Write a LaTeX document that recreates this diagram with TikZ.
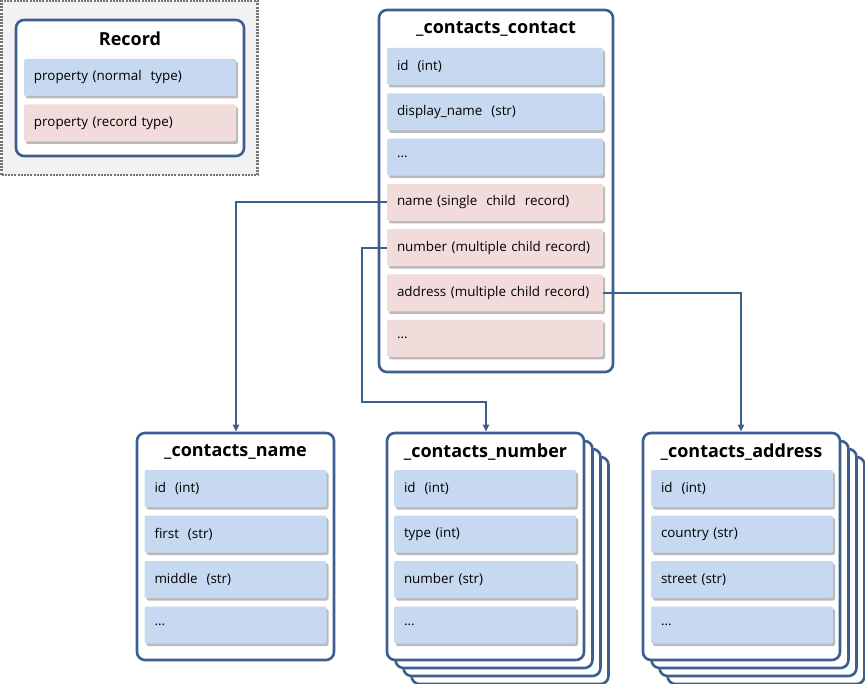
\documentclass[tikz,border=0pt]{standalone}
\usepackage{fontspec}
\setmainfont{Open Sans}
\usetikzlibrary{arrows.meta,shadows,positioning}
\definecolor{bordc}{HTML}{3D5F8E}
\definecolor{rowblue}{HTML}{C6D9F0}
\definecolor{rowpink}{HTML}{F2DCDB}
\definecolor{legbg}{HTML}{F2F2F2}
\tikzset{
  recbox/.style={draw=bordc, line width=2.6pt, rounded corners=8pt, fill=white, inner sep=0pt},
  rowbase/.style={rounded corners=2pt, inner xsep=10pt, inner ysep=0pt, minimum height=37pt,
    align=left, font=\fontsize{13.4}{15}\selectfont,
    drop shadow={shadow xshift=2pt, shadow yshift=-2.5pt, opacity=0.45, fill=black!60}},
  rowb/.style={rowbase, fill=rowblue, text width=#1-20pt},
  rowp/.style={rowbase, fill=rowpink, text width=#1-20pt},
  rtitle/.style={font=\fontsize{18}{20}\selectfont\bfseries, inner sep=0pt},
  conn/.style={draw=bordc, line width=1.8pt},
  arr/.style={conn, -{Triangle[length=7pt,width=6pt]}}
}
\begin{document}
\begin{tikzpicture}[x=1pt,y=-1pt]
\useasboundingbox (0,0) rectangle (865,684);
% legend
\node[draw=black!55, fill=legbg, line width=2.6pt, dash pattern=on 2pt off 1.2pt, minimum width=256pt, minimum height=174pt, inner sep=0pt] (legend) at (129.5,88) {};
\node[recbox, minimum width=228pt, minimum height=136pt] (recbox) at (130,88) {};
\node[rtitle] (rectitle) at (130,38.5) {Record};
\node[rowb=212pt] (lnorm) at (130,77.5) {property (normal\ \ type)};
\node[rowb=212pt, fill=rowpink] (lrec) at (130,123) {property (record type)};

% contacts_contact
\node[recbox, minimum width=234pt, minimum height=362pt] (contact) at (496,191) {};
\node[rtitle] (ctitle) at (496,28.5) {\_contacts\_contact};
\node[rowb=216pt] (cid) at (495,66.5) {id\ \ (int)};
\node[rowb=216pt] (cdisp) at (495,111.8) {display\_name\ \ (str)};
\node[rowb=216pt] (cdots1) at (495,157.1) {...};
\node[rowp=216pt] (cname) at (495,202.4) {name (single\ \ child\ \ record)};
\node[rowp=216pt] (cnum) at (495,247.7) {number (multiple child record)};
\node[rowp=216pt] (caddr) at (495,293.0) {address (multiple child record)};
\node[rowp=216pt] (cdots2) at (495,338.3) {...};

% contacts_name
\node[recbox, minimum width=197pt, minimum height=227pt] (nbox) at (235.5,546.5) {};
\node[rtitle] (ntitle) at (235.5,452) {\_contacts\_name};
\node[rowb=182pt] (nid) at (235.5,488.5) {id\ \ (int)};
\node[rowb=182pt] (nfirst) at (235.5,534) {first\ \ (str)};
\node[rowb=182pt] (nmid) at (235.5,579.5) {middle\ \ (str)};
\node[rowb=182pt] (ndots) at (235.5,625) {...};

% contacts_number (stack)
\node[recbox, minimum width=197pt, minimum height=227pt] (numb3) at (510,570.5) {};
\node[recbox, minimum width=197pt, minimum height=227pt] (numb2) at (502,562.5) {};
\node[recbox, minimum width=197pt, minimum height=227pt] (numb1) at (494,554.5) {};
\node[recbox, minimum width=197pt, minimum height=227pt] (numbox) at (485.5,546.5) {};
\node[rtitle] (numtitle) at (485.5,452) {\_contacts\_number};
\node[rowb=182pt] (numid) at (485,488.5) {id\ \ (int)};
\node[rowb=182pt] (numtype) at (485,534) {type (int)};
\node[rowb=182pt] (numnum) at (485,579.5) {number (str)};
\node[rowb=182pt] (numdots) at (485,625) {...};

% contacts_address (stack)
\node[recbox, minimum width=197pt, minimum height=227pt] (addb3) at (766,570.5) {};
\node[recbox, minimum width=197pt, minimum height=227pt] (addb2) at (758,562.5) {};
\node[recbox, minimum width=197pt, minimum height=227pt] (addb1) at (750,554.5) {};
\node[recbox, minimum width=197pt, minimum height=227pt] (addbox) at (741.5,546.5) {};
\node[rtitle] (addtitle) at (741.5,452) {\_contacts\_address};
\node[rowb=182pt] (addid) at (742,488.5) {id\ \ (int)};
\node[rowb=182pt] (addcountry) at (742,534) {country (str)};
\node[rowb=182pt] (addstreet) at (742,579.5) {street (str)};
\node[rowb=182pt] (adddots) at (742,625) {...};

% connectors
\coordinate (nbend) at (236,202.4);
\coordinate (numb1c) at (362,247.7);
\coordinate (numb2c) at (362,402);
\coordinate (numb3c) at (486,402);
\coordinate (addbend) at (741,293);
\draw[arr] (cname.west) -- (nbend) -- (nbox.north -| nbend);
\draw[arr] (cnum.west) -- (numb1c) -- (numb2c) -- (numb3c) -- (numbox.north -| numb3c);
\draw[arr] (caddr.east) -- (addbend) -- (addbox.north -| addbend);
\end{tikzpicture}
\end{document}
